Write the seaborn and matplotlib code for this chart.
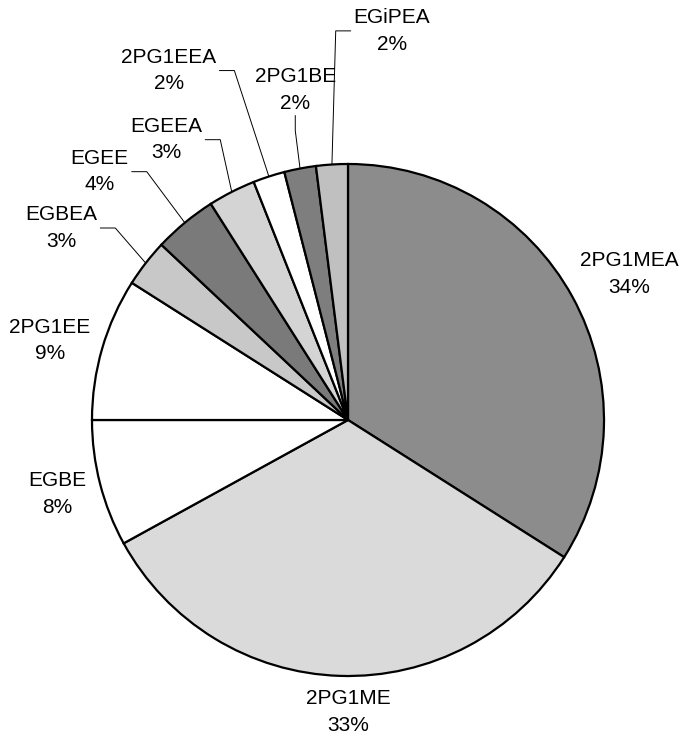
import matplotlib
matplotlib.use("Agg")
import matplotlib.pyplot as plt
import numpy as np
import seaborn as sns

# data, clockwise from 12 o'clock
solvents = ["2PG1MEA", "2PG1ME", "EGBE", "2PG1EE", "EGBEA",
            "EGEE", "EGEEA", "2PG1EEA", "2PG1BE", "EGiPEA"]
shares = [34, 33, 8, 9, 3, 4, 3, 2, 2, 2]

# grey levels standing in for the stipple fills
greys = ["#8c8c8c", "#dadada", "#ffffff", "#ffffff", "#c8c8c8",
         "#7a7a7a", "#d4d4d4", "#ffffff", "#7e7e7e", "#c0c0c0"]

# label block centres (pie radius = 1) and how the leader line leaves them
label_pos = [(1.10, 0.57), (0.0, -1.14), (-1.135, -0.29), (-1.165, 0.31),
             (-1.12, 0.75), (-0.97, 0.97), (-0.71, 1.095), (-0.70, 1.365),
             (-0.206, 1.29), (0.172, 1.52)]
leader = [None, None, None, None, "side", "side", "side", "side", "below", "side"]

sns.set_theme(style="white")
plt.rcParams["font.family"] = ["Liberation Sans", "DejaVu Sans"]

W, H = 682, 738
R = 256.0
cx, cy = 348, 420
fig = plt.figure(figsize=(W / 100, H / 100), dpi=100)
ax = fig.add_axes([0, 0, 1, 1])

wedges, _ = ax.pie(shares, colors=greys, startangle=90, counterclock=False,
                   radius=1.0,
                   wedgeprops=dict(edgecolor="black", linewidth=1.6))
ax.set_xlim(-cx / R, (W - cx) / R)
ax.set_ylim(-(H - cy) / R, cy / R)
ax.set_aspect("auto")
ax.axis("off")

texts = []
for name, val, (tx, ty) in zip(solvents, shares, label_pos):
    t = ax.text(tx, ty, f"{name}\n{val}%", ha="center", va="center",
                fontsize=15, linespacing=1.5, color="black")
    texts.append(t)

fig.canvas.draw()
renderer = fig.canvas.get_renderer()
inv = ax.transData.inverted()
step = 15 / R
gap = 3 / R
for w, t, kind in zip(wedges, texts, leader):
    if kind is None:
        continue
    mid = np.deg2rad((w.theta1 + w.theta2) / 2)
    ex, ey = np.cos(mid), np.sin(mid)
    bb = t.get_window_extent(renderer)
    (x0, y0), (x1, y1) = inv.transform([[bb.x0, bb.y0], [bb.x1, bb.y1]])
    tx, ty = t.get_position()
    if kind == "below":
        sy = y0 - gap
        ax.plot([tx, tx, ex], [sy, sy - step, ey], color="black", lw=0.7)
        continue
    ymid = (y0 + y1) / 2
    if tx < ex:
        sx, kx = x1 + gap, x1 + gap + step
    else:
        sx, kx = x0 - gap, x0 - gap - step
    ax.plot([sx, kx, ex], [ymid, ymid, ey], color="black", lw=0.7)

fig.savefig("out.png", dpi=100)
